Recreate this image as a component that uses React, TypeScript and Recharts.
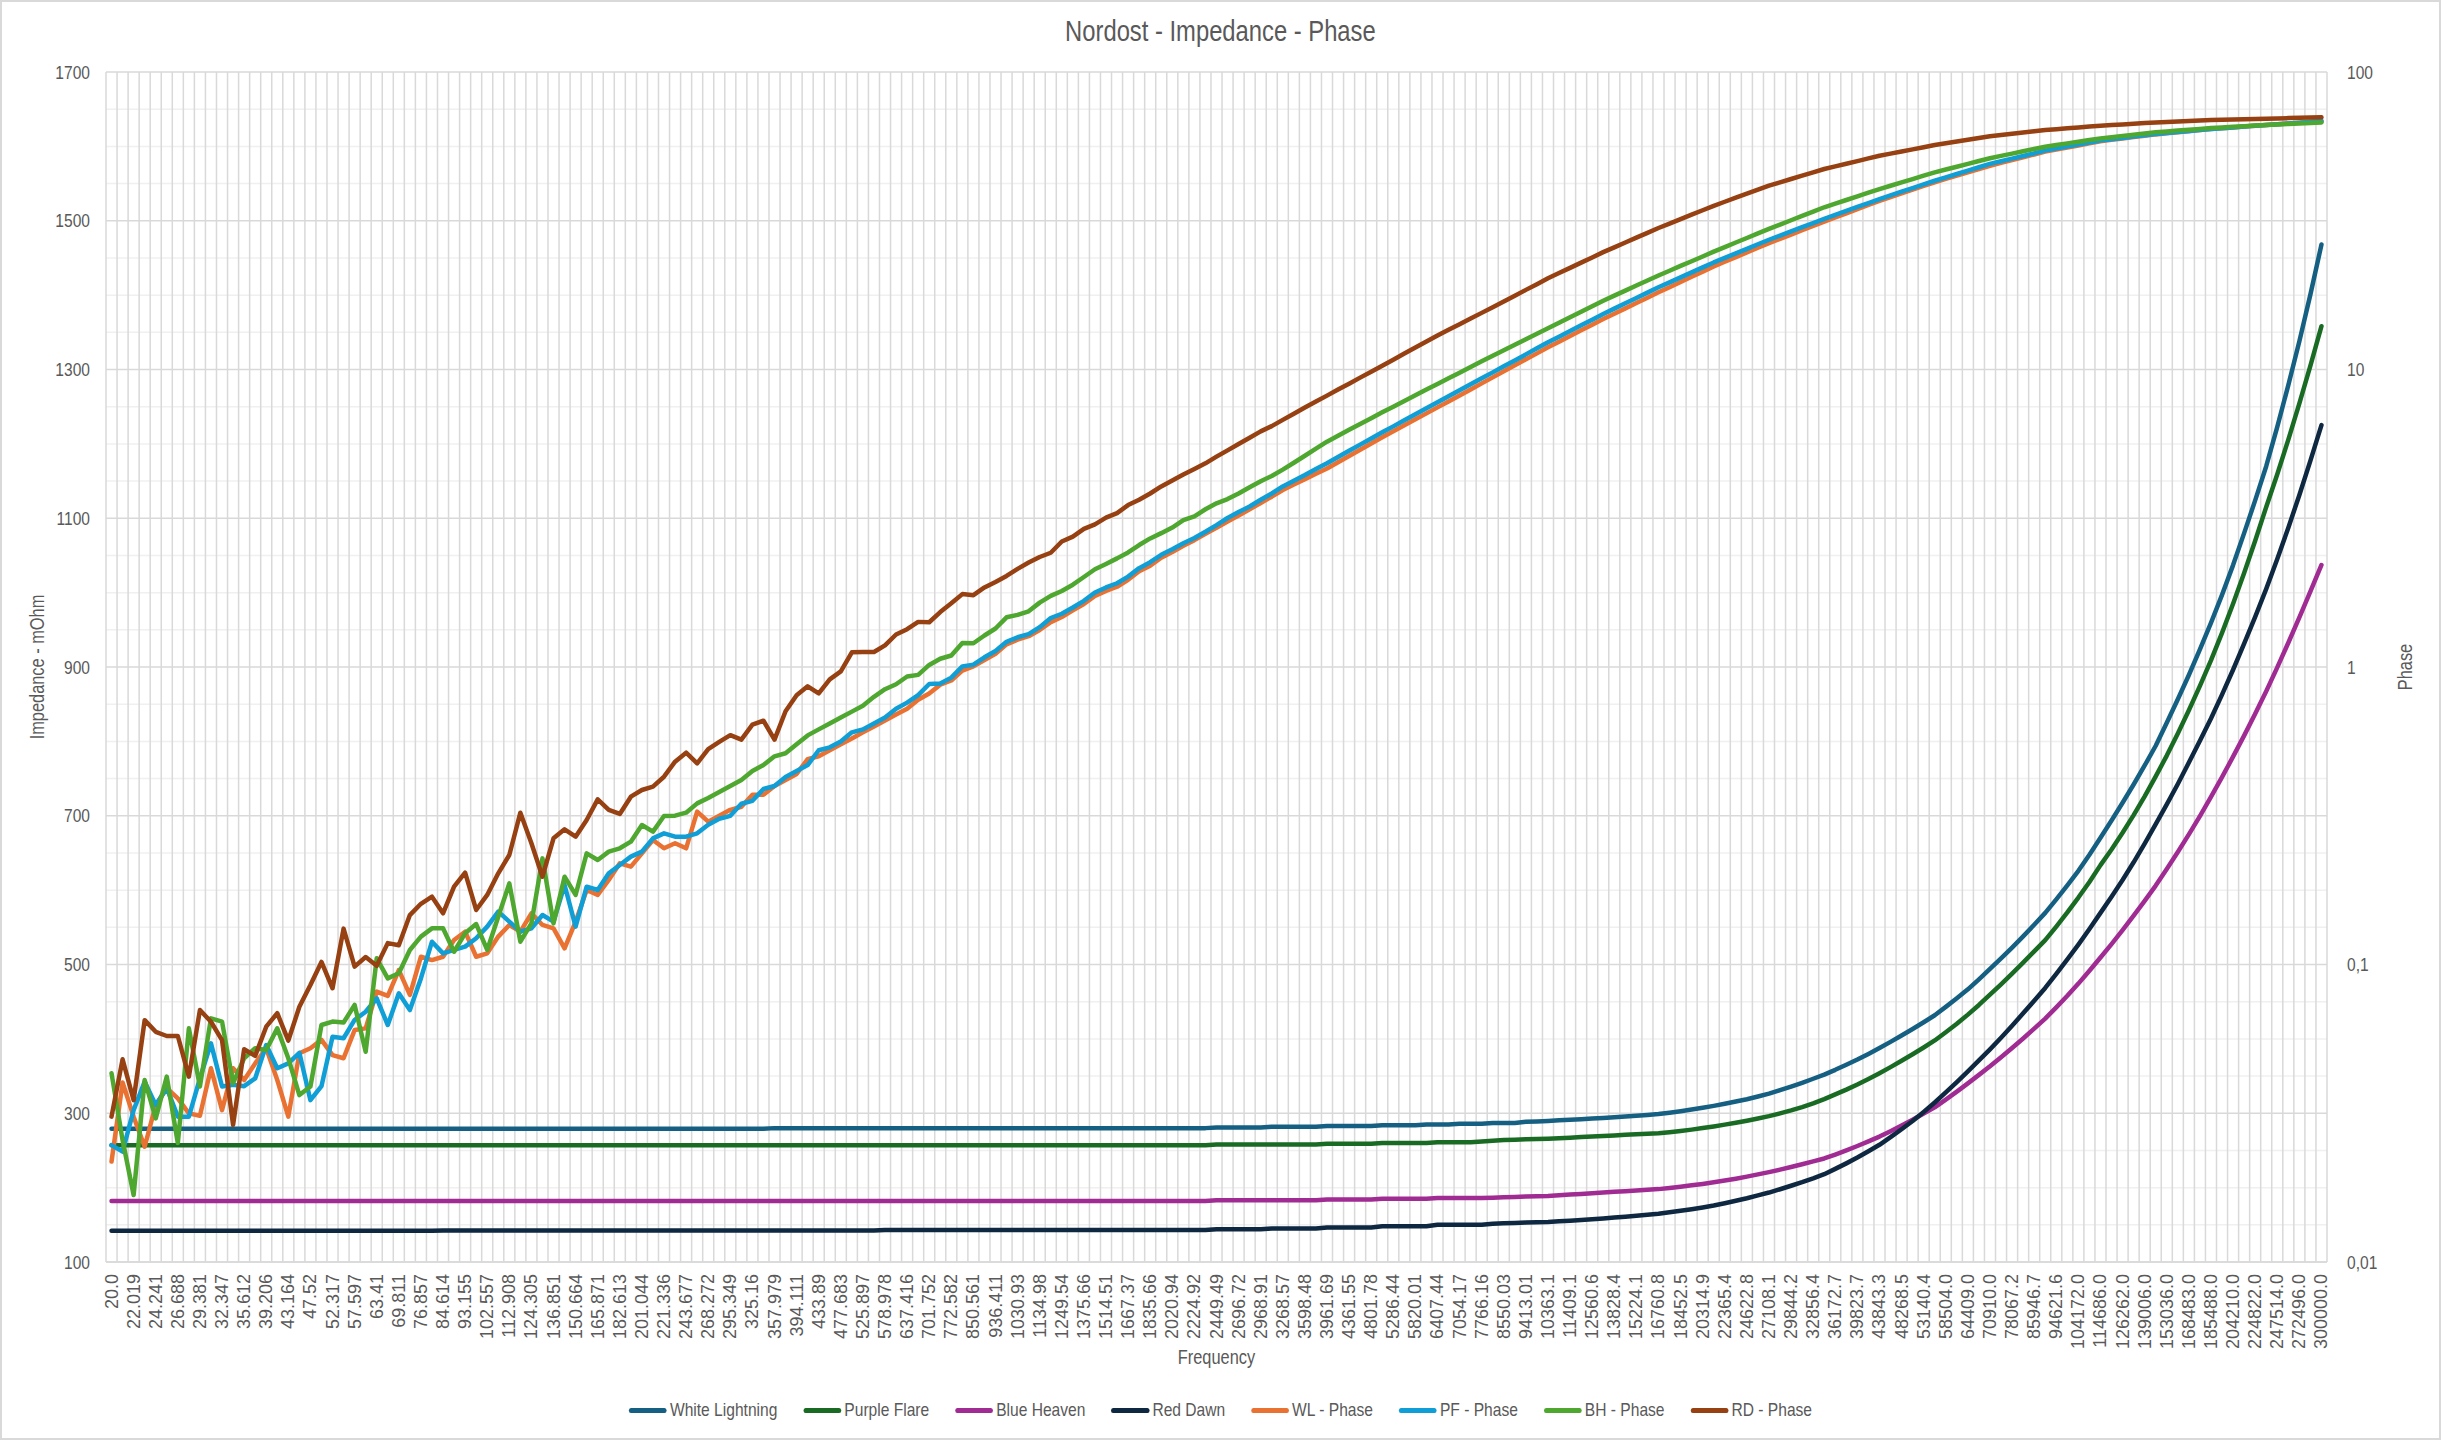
import React from 'react';
import { LineChart, Line, XAxis, YAxis, CartesianGrid, Legend } from 'recharts';

// ---------- tick labels / categories ----------
const FREQ_LABELS = [
  '20.0','22.019','24.241','26.688','29.381','32.347','35.612','39.206','43.164','47.52',
  '52.317','57.597','63.41','69.811','76.857','84.614','93.155','102.557','112.908','124.305',
  '136.851','150.664','165.871','182.613','201.044','221.336','243.677','268.272','295.349','325.16',
  '357.979','394.111','433.89','477.683','525.897','578.978','637.416','701.752','772.582','850.561',
  '936.411','1030.93','1134.98','1249.54','1375.66','1514.51','1667.37','1835.66','2020.94','2224.92',
  '2449.49','2696.72','2968.91','3268.57','3598.48','3961.69','4361.55','4801.78','5286.44','5820.01',
  '6407.44','7054.17','7766.16','8550.03','9413.01','10363.1','11409.1','12560.6','13828.4','15224.1',
  '16760.8','18452.5','20314.9','22365.4','24622.8','27108.1','29844.2','32856.4','36172.7','39823.7',
  '43843.3','48268.5','53140.4','58504.0','64409.0','70910.0','78067.2','85946.7','94621.6','104172.0',
  '114686.0','126262.0','139006.0','153036.0','168483.0','185488.0','204210.0','224822.0','247514.0','272496.0',
  '300000.0',
];

const IMP_TICKS = [100, 300, 500, 700, 900, 1100, 1300, 1500, 1700];
const IMP_MINOR = [150, 200, 250, 350, 400, 450, 550, 600, 650, 750, 800, 850, 950, 1000, 1050, 1150, 1200, 1250, 1350, 1400, 1450, 1550, 1600, 1650];
const PHASE_TICKS = [0.01, 0.1, 1, 10, 100];
const PHASE_TICK_LABELS = ['0,01', '0,1', '1', '10', '100'];

// ---------- impedance (mOhm), one value per measured frequency ----------
const IMP_WL = [
  279,279,279,279,279,279,279,279,279,279,
  279,279,279,279,279,279,279,279,279,279,
  279,279,279,279,279,279,279,279,279,279,
  279,279,279,279,279,279,279,279,279,279,
  279,279,279,279,279,279,279,279,279,279,
  279,279,279,279,279,279,279,279,279,279,
  280,280,280,280,280,280,280,280,280,280,
  280,280,280,280,280,280,280,280,280,280,
  280,280,280,280,280,280,280,280,280,280,
  280,280,280,280,280,280,280,280,280,280,
  281,281,281,281,281,282,282,282,282,282,
  283,283,283,283,283,284,284,284,284,285,
  285,285,286,286,286,287,287,287,288.5,289,
  289.7,290.5,291.2,292,292.8,293.6,294.5,295.5,296.6,297.7,
  298.9,300.8,302.8,305,307.4,309.9,312.7,315.7,318.9,322.5,
  326.4,331,335.9,341,346.4,352,358.4,365.2,372.2,379.8,
  387.8,396,404.6,413.3,422.4,431.8,443,454.6,466.6,480.1,
  494.2,508.2,522.8,537.8,553.4,569.4,587.6,606.4,626,647.6,
  670.3,693.5,717.5,742,767.6,794.1,825,856.6,889.2,923.6,
  959.2,997,1037,1080,1124,1170,1223,1279,1338,1401,
  1468,
];

const IMP_PF = [
  257,257,257,257,257,257,257,257,257,257,
  257,257,257,257,257,257,257,257,257,257,
  257,257,257,257,257,257,257,257,257,257,
  257,257,257,257,257,257,257,257,257,257,
  257,257,257,257,257,257,257,257,257,257,
  257,257,257,257,257,257,257,257,257,257,
  257,257,257,257,257,257,257,257,257,257,
  257,257,257,257,257,257,257,257,257,257,
  257,257,257,257,257,257,257,257,257,257,
  257,257,257,257,257,257,257,257,257,257,
  258,258,258,258,258,258,258,258,258,258,
  259,259,259,259,259,260,260,260,260,260,
  261,261,261,261,262,263,264,264.5,265,265.4,
  265.8,266.5,267.2,268,268.7,269.5,270.2,271,271.8,272.5,
  273.2,274.6,276.2,278,280.1,282.3,284.7,287.3,290,293,
  296.1,299.8,303.8,308.2,313.2,319,325.3,331.8,338.7,346.1,
  353.9,362,370.5,379.3,388.4,397.9,408.9,420.4,432.6,445.6,
  459.4,473.3,487.8,502.6,517.7,532.7,551,570,590,611,
  633.6,654.6,677.1,700.9,726.1,752.9,780.9,810.6,841.8,874.7,
  908.8,945.8,985.1,1026.3,1069.7,1115.2,1159.2,1205.7,1254.4,1305.2,
  1358.2,
];

const IMP_BH = [
  182,182,182,182,182,182,182,182,182,182,
  182,182,182,182,182,182,182,182,182,182,
  182,182,182,182,182,182,182,182,182,182,
  182,182,182,182,182,182,182,182,182,182,
  182,182,182,182,182,182,182,182,182,182,
  182,182,182,182,182,182,182,182,182,182,
  182,182,182,182,182,182,182,182,182,182,
  182,182,182,182,182,182,182,182,182,182,
  182,182,182,182,182,182,182,182,182,182,
  182,182,182,182,182,182,182,182,182,182,
  183,183,183,183,183,183,183,183,183,183,
  184,184,184,184,184,185,185,185,185,185,
  186,186,186,186,186,186.5,187,187.5,188,188.4,
  188.8,189.7,190.6,191.5,192.4,193.4,194.3,195.2,196.1,197,
  198,199.6,201.3,203.1,205,207.1,209.5,212,214.8,217.8,
  220.9,224.2,227.7,231.4,235.2,239.2,244.5,250.1,256,262.2,
  268.6,275.9,283.5,291.4,299.6,308,318.3,329,340.2,351.6,
  363.1,375.3,387.8,400.6,413.8,427.3,442.4,457.9,474.3,491.5,
  509.4,527.4,546.2,565.6,585.6,606.1,628.3,651.2,674.9,699.6,
  725.4,752,779.4,807.7,837.1,867.5,899.5,932.6,966.8,1001.6,
  1037.2,
];

const IMP_RD = [
  142,142,142,142,142,142,142,142,142,142,
  142,142,142,142,142,142,142,142,142,142,
  142,142,142,142,142,142,142,142,142,142,
  142.5,142.5,142.5,142.5,142.5,142.5,142.5,142.5,142.5,142.5,
  142.5,142.5,142.5,142.5,142.5,142.5,142.5,142.5,142.5,142.5,
  142.5,142.5,142.5,142.5,142.5,142.5,142.5,142.5,142.5,142.5,
  142.5,142.5,142.5,142.5,142.5,142.5,142.5,142.5,142.5,142.5,
  143,143,143,143,143,143,143,143,143,143,
  143,143,143,143,143,143,143,143,143,143,
  143,143,143,143,143,143,143,143,143,143,
  144,144,144,144,144,145,145,145,145,145,
  146.5,146.5,146.5,146.5,146.5,148,148,148,148,148,
  150,150,150,150,150,151.5,152,152.5,153,153.5,
  153.9,154.7,155.5,156.4,157.4,158.5,159.7,160.9,162.2,163.5,
  164.9,166.8,168.8,170.9,173.3,175.9,179,182.3,185.7,189.5,
  193.4,197.8,202.5,207.3,212.5,218.1,225.2,232.6,240.4,248.8,
  257.6,267.8,278.5,289.6,301.8,314.5,328,341.9,356.2,371.1,
  386,401.5,417.6,434.4,451.2,468.5,487.4,506.8,526.8,547.7,
  569.4,591.2,613.7,637.4,662.4,688.7,715.2,742.7,771.5,800.7,
  830.8,862.8,896.3,931.4,967.5,1005.1,1045.2,1087.3,1131.2,1177.4,
  1225.2,
];

// ---------- phase (secondary, log axis) ----------
const PH_WL = [
  0.02175,0.0401,0.0308,0.0244,0.0337,0.0384,0.0355,0.0316,0.031,0.0448,
  0.0324,0.0448,0.0409,0.0465,0.0523,0.0409,0.0308,0.0503,0.0523,0.0558,
  0.0496,0.0484,0.0602,0.061,0.0811,0.0784,0.0958,0.079,0.1062,0.1035,
  0.1062,0.1209,0.1289,0.1062,0.109,0.1241,0.1358,0.1289,0.1486,0.1358,
  0.1323,0.1133,0.1393,0.178,0.1713,0.1923,0.2188,0.2133,0.2364,0.2621,
  0.2458,0.2555,0.2458,0.3265,0.302,0.316,0.331,0.339,0.372,0.372,
  0.398,0.417,0.437,0.49,0.501,0.525,0.55,0.575,0.603,0.631,
  0.661,0.692,0.724,0.776,0.815,0.872,0.901,0.972,1.005,1.055,
  1.108,1.192,1.235,1.269,1.332,1.414,1.473,1.551,1.629,1.734,
  1.801,1.861,1.964,2.097,2.19,2.331,2.434,2.556,2.669,2.803,
  2.936,3.083,3.228,3.39,3.56,3.737,3.936,4.11,4.28,4.46,
  4.65,4.88,5.12,5.37,5.64,5.92,6.2,6.49,6.8,7.12,
  7.46,7.81,8.18,8.57,8.98,9.41,9.86,10.33,10.82,11.33,
  11.87,12.4,12.96,13.54,14.15,14.78,15.4,16.05,16.73,17.43,
  18.17,18.91,19.69,20.49,21.33,22.2,23.02,23.86,24.74,25.65,
  26.6,27.5,28.42,29.38,30.37,31.4,32.43,33.49,34.59,35.73,
  36.9,37.98,39.09,40.23,41.4,42.6,43.7,44.84,46.0,47.19,
  48.4,49.47,50.56,51.68,52.82,54.0,54.87,55.75,56.65,57.56,
  58.5,59.13,59.76,60.4,61.05,61.7,62.21,62.73,63.25,63.77,
  64.3,64.71,65.13,65.55,65.97,66.4,66.79,67.18,67.58,67.98,
  68.4,
];

const PH_PF = [
  0.0247,0.0235,0.0324,0.0404,0.0337,0.0384,0.0308,0.0308,0.0414,0.0543,
  0.0389,0.0394,0.039,0.0414,0.0536,0.0448,0.0465,0.0505,0.035,0.039,
  0.0572,0.0565,0.0651,0.0694,0.077,0.0626,0.08,0.0703,0.0898,0.1193,
  0.109,0.1119,0.1148,0.1225,0.1341,0.1505,0.1393,0.1289,0.1323,0.1467,
  0.1393,0.185,0.1341,0.1826,0.178,0.2025,0.2161,0.2304,0.2395,0.2655,
  0.276,0.269,0.269,0.276,0.295,0.309,0.316,0.347,0.355,0.389,
  0.398,0.427,0.447,0.468,0.525,0.537,0.562,0.603,0.617,0.646,
  0.676,0.724,0.759,0.804,0.877,0.88,0.921,1.005,1.018,1.078,
  1.132,1.215,1.259,1.29,1.361,1.461,1.51,1.585,1.669,1.781,
  1.851,1.912,2.013,2.149,2.25,2.382,2.488,2.605,2.713,2.849,
  3.0,3.168,3.317,3.464,3.648,3.83,4.044,4.23,4.42,4.63,
  4.84,5.08,5.33,5.59,5.86,6.15,6.44,6.75,7.07,7.41,
  7.76,8.13,8.51,8.92,9.34,9.78,10.25,10.73,11.24,11.78,
  12.34,12.89,13.47,14.08,14.71,15.37,16.02,16.69,17.39,18.13,
  18.89,19.63,20.4,21.2,22.04,22.9,23.72,24.57,25.45,26.36,
  27.3,28.2,29.13,30.08,31.07,32.1,33.09,34.12,35.18,36.27,
  37.4,38.48,39.59,40.73,41.9,43.1,44.24,45.41,46.61,47.84,
  49.1,50.12,51.15,52.21,53.29,54.4,55.25,56.12,57.0,57.9,
  58.8,59.41,60.02,60.64,61.27,61.9,62.37,62.84,63.32,63.8,
  64.3,64.71,65.13,65.55,65.97,66.4,66.79,67.18,67.58,67.98,
  68.4,
];

const PH_BH = [
  0.0431,0.0257,0.0168,0.0409,0.0304,0.042,0.0251,0.061,0.0389,0.0659,
  0.0643,0.0399,0.0484,0.0523,0.0516,0.061,0.0484,0.0364,0.0389,0.0626,
  0.0643,0.0638,0.0731,0.0509,0.1049,0.0898,0.0934,0.1119,0.1241,0.1323,
  0.1323,0.1104,0.1273,0.1368,0.1119,0.1448,0.1874,0.1193,0.1375,0.2274,
  0.1375,0.1973,0.1713,0.2364,0.2245,0.2395,0.2458,0.2588,0.2944,0.2796,
  0.3157,0.3165,0.3239,0.348,0.363,0.38,0.398,0.417,0.447,0.468,
  0.501,0.513,0.55,0.589,0.617,0.646,0.676,0.708,0.741,0.794,
  0.842,0.875,0.929,0.941,1.016,1.066,1.093,1.205,1.202,1.276,
  1.347,1.469,1.497,1.539,1.646,1.734,1.801,1.891,2.007,2.131,
  2.22,2.318,2.427,2.57,2.705,2.818,2.943,3.116,3.211,3.39,
  3.55,3.667,3.83,4.022,4.213,4.387,4.607,4.86,5.13,5.42,
  5.72,5.99,6.27,6.56,6.86,7.18,7.5,7.84,8.19,8.56,
  8.94,9.34,9.76,10.19,10.65,11.13,11.61,12.11,12.64,13.18,
  13.75,14.35,14.98,15.63,16.32,17.03,17.71,18.41,19.15,19.91,
  20.7,21.48,22.29,23.12,23.99,24.9,25.79,26.72,27.68,28.67,
  29.7,30.71,31.75,32.83,33.95,35.1,36.1,37.13,38.19,39.28,
  40.4,41.46,42.55,43.67,44.82,46.0,47.02,48.05,49.11,50.2,
  51.3,52.23,53.17,54.14,55.12,56.1,56.82,57.56,58.3,59.05,
  59.8,60.37,60.94,61.52,62.11,62.7,63.11,63.53,63.95,64.37,
  64.8,65.12,65.43,65.75,66.07,66.4,66.66,66.92,67.18,67.44,
  67.7,
];

const PH_RD = [
  0.0308,0.048,0.035,0.065,0.0594,0.0575,0.0575,0.042,0.0703,0.0642,
  0.0557,0.0289,0.0519,0.0493,0.0618,0.0686,0.0555,0.0721,0.0853,0.102,
  0.0832,0.132,0.0984,0.106,0.099,0.118,0.116,0.1466,0.16,0.169,
  0.1486,0.1826,0.2035,0.1525,0.1713,0.2025,0.2334,0.3238,0.2555,0.1973,
  0.2655,0.2847,0.269,0.3059,0.359,0.3307,0.3206,0.3665,0.3859,0.396,
  0.4278,0.4806,0.5152,0.4745,0.53,0.56,0.59,0.57,0.64,0.66,
  0.57,0.71,0.804,0.861,0.815,0.909,0.967,1.12,1.123,1.123,
  1.182,1.286,1.34,1.418,1.414,1.53,1.637,1.758,1.743,1.851,
  1.932,2.024,2.137,2.244,2.343,2.421,2.641,2.743,2.912,3.017,
  3.177,3.291,3.502,3.648,3.83,4.044,4.235,4.436,4.632,4.838,
  5.093,5.348,5.617,5.898,6.195,6.451,6.77,7.1,7.45,7.8,
  8.17,8.56,8.96,9.39,9.83,10.3,10.79,11.31,11.85,12.41,
  13.0,13.59,14.2,14.83,15.5,16.2,16.94,17.71,18.52,19.36,
  20.25,21.09,21.96,22.87,23.81,24.8,25.74,26.73,27.75,28.8,
  29.9,30.94,32.02,33.14,34.3,35.5,36.63,37.79,38.98,40.22,
  41.5,42.58,43.69,44.82,46.0,47.2,48.18,49.17,50.19,51.23,
  52.3,53.17,54.05,54.95,55.87,56.8,57.58,58.37,59.17,59.98,
  60.8,61.39,61.98,62.59,63.19,63.8,64.24,64.67,65.11,65.55,
  66.0,66.34,66.67,67.01,67.36,67.7,67.96,68.22,68.48,68.74,
  69.0,69.14,69.28,69.42,69.56,69.7,69.84,69.98,70.12,70.26,
  70.4,
];

const SERIES = [
  { key: 'wl', name: 'White Lightning', color: '#156082', axis: 'left' },
  { key: 'pf', name: 'Purple Flare', color: '#196B24', axis: 'left' },
  { key: 'bh', name: 'Blue Heaven', color: '#A02B93', axis: 'left' },
  { key: 'rd', name: 'Red Dawn', color: '#0E2841', axis: 'left' },
  { key: 'wlp', name: 'WL - Phase', color: '#E97132', axis: 'right' },
  { key: 'pfp', name: 'PF - Phase', color: '#0F9ED5', axis: 'right' },
  { key: 'bhp', name: 'BH - Phase', color: '#4EA72E', axis: 'right' },
  { key: 'rdp', name: 'RD - Phase', color: '#974012', axis: 'right' },
];

const data = IMP_WL.map((_, i) => ({
  idx: i,
  wl: IMP_WL[i],
  pf: IMP_PF[i],
  bh: IMP_BH[i],
  rd: IMP_RD[i],
  wlp: PH_WL[i],
  pfp: PH_PF[i],
  bhp: PH_BH[i],
  rdp: PH_RD[i],
}));

// ---------- layout ----------
const W = 2441;
const H = 1440;
const PLOT_LEFT = 106;
const PLOT_RIGHT = 2327;
const PLOT_TOP = 72;
const PLOT_BOTTOM = 1262;
const LEGEND_H = 60;
const XAXIS_H = H - PLOT_BOTTOM - LEGEND_H;
const N = data.length;
const HALF_STEP = (PLOT_RIGHT - PLOT_LEFT) / (2 * N);

// narrow face emulated by horizontally compressing Liberation Sans (Arial metrics)
const SANS = "'Liberation Sans', Arial, sans-serif";
const NARROW_X = 0.82;
const TEXT = '#595959';
const GRID = '#D9D9D9';

const XTick = (props: any) => {
  const { x, y, payload } = props;
  const i = payload.value as number;
  if (i % 2 !== 0) return <g />;
  return (
    <text
      x={x}
      y={y}
      dx={-12}
      transform={`rotate(-90, ${x}, ${y})`}
      textAnchor="end"
      dominantBaseline="central"
      fill={TEXT}
      fontSize={18}
      fontFamily={SANS}
    >
      {FREQ_LABELS[i / 2]}
    </text>
  );
};

const YTick = (props: any) => {
  const { x, y, payload, textAnchor, formatter } = props;
  const label = formatter ? formatter(payload.value) : String(payload.value);
  return (
    <text
      transform={`translate(${x}, ${y}) scale(${NARROW_X}, 1)`}
      textAnchor={textAnchor}
      dominantBaseline="central"
      fill={TEXT}
      fontSize={19}
      fontFamily={SANS}
    >
      {label}
    </text>
  );
};

const phaseLabel = (v: number) => PHASE_TICK_LABELS[PHASE_TICKS.indexOf(v)] ?? String(v);

const axisTitle = (text: string, rotate: boolean, dx: number, dy: number) => (props: any) => {
  const vb = props.viewBox || {};
  const cx = vb.x + vb.width / 2 + dx;
  const cy = vb.y + vb.height / 2 + dy;
  return (
    <text
      transform={`translate(${cx}, ${cy})${rotate ? ' rotate(-90)' : ''} scale(${NARROW_X}, 1)`}
      textAnchor="middle"
      dominantBaseline="central"
      fill={TEXT}
      fontSize={20}
      fontFamily={SANS}
    >
      {text}
    </text>
  );
};

const LegendContent = (props: any) => {
  const payload = props.payload || [];
  const ordered = SERIES.map((s) => payload.find((p: any) => p.dataKey === s.key) || { value: s.name, color: s.color });
  const k = 1 / NARROW_X;
  return (
    <div
      style={{
        width: '100%',
        height: LEGEND_H,
        display: 'flex',
        justifyContent: 'center',
        alignItems: 'center',
        gap: 26 * k,
        fontFamily: SANS,
        fontSize: 19,
        color: TEXT,
        transform: `scaleX(${NARROW_X})`,
        transformOrigin: 'center center',
        whiteSpace: 'nowrap',
      }}
    >
      {ordered.map((p: any) => (
        <div key={p.value} style={{ display: 'flex', alignItems: 'center' }}>
          <span style={{ display: 'inline-block', width: 38 * k, height: 5, borderRadius: 2.5, background: p.color, marginRight: 3 * k }} />
          <span>{p.value}</span>
        </div>
      ))}
    </div>
  );
};

export default function App() {
  return (
    <div style={{ position: 'relative', width: W, height: H, background: '#ffffff', overflow: 'hidden' }}>
      <style>{'body{margin:0;background:#fff}'}</style>
      <div
        style={{
          position: 'absolute',
          left: 0,
          top: 11,
          width: W,
          lineHeight: '40px',
          textAlign: 'center',
          fontFamily: SANS,
          fontSize: 29,
          color: TEXT,
        }}
      >
        <span style={{ display: 'inline-block', transform: `scaleX(${NARROW_X})` }}>Nordost - Impedance - Phase</span>
      </div>
      <LineChart width={W} height={H} data={data} margin={{ top: PLOT_TOP, right: 0, bottom: 0, left: 0 }}>
        <CartesianGrid yAxisId="left" vertical={false} horizontalValues={IMP_MINOR} stroke="#F0F0F0" strokeWidth={1.5} />
        <CartesianGrid
          yAxisId="left"
          horizontalValues={IMP_TICKS}
          verticalCoordinatesGenerator={({ offset }: any) =>
            Array.from({ length: N + 1 }, (_, k) => offset.left + (k * offset.width) / N)
          }
          stroke={GRID}
          strokeWidth={1.5}
        />
        <XAxis
          dataKey="idx"
          type="category"
          interval={0}
          padding={{ left: HALF_STEP, right: HALF_STEP }}
          height={XAXIS_H}
          axisLine={{ stroke: GRID, strokeWidth: 1.5 }}
          tickLine={false}
          tickSize={0}
          tickMargin={0}
          tick={<XTick />}
          label={{ value: 'Frequency', content: axisTitle('Frequency', false, 0, 36) }}
        />
        <YAxis
          yAxisId="left"
          width={PLOT_LEFT}
          domain={[100, 1700]}
          ticks={IMP_TICKS}
          allowDataOverflow
          axisLine={false}
          tickLine={false}
          tickSize={0}
          tickMargin={16}
          tick={<YTick />}
          label={{ value: 'Impedance - mOhm', content: axisTitle('Impedance - mOhm', true, -16, 0) }}
        />
        <YAxis
          yAxisId="right"
          orientation="right"
          width={W - PLOT_RIGHT}
          scale="log"
          domain={[0.01, 100]}
          ticks={PHASE_TICKS}
          allowDataOverflow
          axisLine={false}
          tickLine={false}
          tickSize={0}
          tickMargin={20}
          tick={<YTick formatter={phaseLabel} />}
          label={{ value: 'Phase', content: axisTitle('Phase', true, 21, 0) }}
        />
        {SERIES.map((s) => (
          <Line
            key={s.key}
            yAxisId={s.axis}
            dataKey={s.key}
            name={s.name}
            stroke={s.color}
            strokeWidth={4.5}
            strokeLinejoin="round"
            strokeLinecap="round"
            dot={false}
            activeDot={false}
            isAnimationActive={false}
          />
        ))}
        <Legend verticalAlign="bottom" height={LEGEND_H} content={<LegendContent />} />
      </LineChart>
      <div
        style={{
          position: 'absolute',
          left: 0,
          top: 0,
          width: W,
          height: H,
          border: '2px solid #D9D9D9',
          boxSizing: 'border-box',
          pointerEvents: 'none',
        }}
      />
    </div>
  );
}
